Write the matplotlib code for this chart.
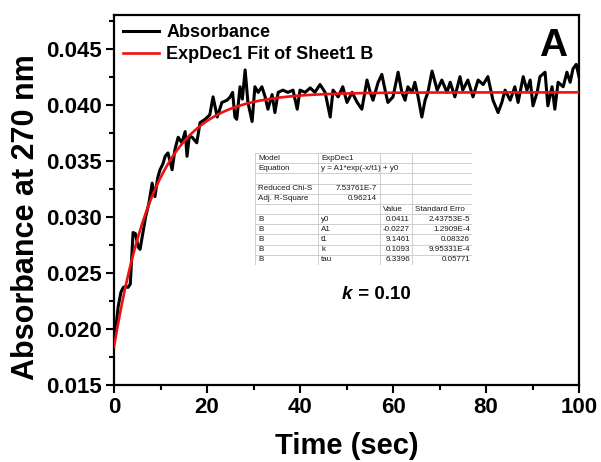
import numpy as np
import matplotlib
matplotlib.use('Agg')
import matplotlib.pyplot as plt
from matplotlib.ticker import MultipleLocator

plt.rcParams['font.family'] = ['Liberation Sans', 'DejaVu Sans']

# measured absorbance trace (time in sec)
time_s = [0, 0.5, 0.9, 1.5, 2.0, 2.5, 3.0, 3.5, 4.1, 4.6,
          5.2, 5.6, 6.3, 6.8, 7.5, 8.2, 8.8, 9.4, 9.9, 10.5,
          11.0, 11.6, 12.5, 13.1, 13.8, 14.6, 15.3, 15.7, 16.2, 16.8,
          17.8, 18.5, 19.6, 20.6, 21.3, 22.2, 23.2, 24.3, 25.0, 25.5,
          26.0, 26.4, 27.1, 27.6, 28.2, 28.8, 29.7, 30.3, 31.0, 31.8,
          32.5, 33.1, 34.0, 34.6, 35.3, 36.3, 37.4, 38.5, 39.4, 40.0,
          41.1, 42.2, 43.2, 44.3, 45.4, 46.5, 47.1, 48.2, 49.2, 50.1,
          51.2, 52.3, 53.3, 54.4, 55.1, 55.7, 56.8, 57.6, 58.3, 58.9,
          60.0, 61.1, 61.9, 62.6, 63.2, 64.1, 64.7, 65.4, 66.2, 66.9,
          67.5, 68.4, 69.5, 70.5, 71.6, 72.3, 73.3, 74.4, 75.0, 76.1,
          77.2, 78.3, 79.4, 80.4, 81.5, 82.6, 83.4, 84.1, 85.2, 86.2,
          86.9, 88.0, 88.8, 89.5, 90.1, 91.0, 91.6, 92.7, 93.3, 94.2,
          94.8, 95.5, 96.6, 97.4, 98.1, 98.7, 99.4, 100.0]
absorbance = [0.0188, 0.0205, 0.0220, 0.0233, 0.0237, 0.0238, 0.0237, 0.0240, 0.0286, 0.0285,
              0.0273, 0.0271, 0.0288, 0.0300, 0.0312, 0.0330, 0.0318, 0.0335, 0.0342, 0.0347,
              0.0354, 0.0357, 0.0342, 0.0360, 0.0371, 0.0366, 0.0376, 0.0354, 0.0372, 0.0371,
              0.0366, 0.0384, 0.0387, 0.0391, 0.0407, 0.0389, 0.0402, 0.0404, 0.0407, 0.0411,
              0.0389, 0.0387, 0.0416, 0.0405, 0.0431, 0.0402, 0.0385, 0.0416, 0.0411, 0.0416,
              0.0407, 0.0396, 0.0409, 0.0393, 0.0411, 0.0413, 0.0411, 0.0413, 0.0396, 0.0413,
              0.0411, 0.0415, 0.0411, 0.0418, 0.0411, 0.0389, 0.0413, 0.0407, 0.0416, 0.0402,
              0.0411, 0.0402, 0.0396, 0.0422, 0.0411, 0.0404, 0.0420, 0.0427, 0.0413, 0.0402,
              0.0407, 0.0429, 0.0411, 0.0404, 0.0416, 0.0411, 0.0420, 0.0407, 0.0389, 0.0404,
              0.0411, 0.0430, 0.0413, 0.0422, 0.0411, 0.0420, 0.0407, 0.0425, 0.0413, 0.0422,
              0.0407, 0.0422, 0.0418, 0.0425, 0.0404, 0.0393, 0.0402, 0.0413, 0.0404, 0.0416,
              0.0402, 0.0425, 0.0413, 0.0422, 0.0399, 0.0411, 0.0425, 0.0429, 0.0399, 0.0416,
              0.0396, 0.0420, 0.0416, 0.0429, 0.0420, 0.0432, 0.0436, 0.0425]

# ExpDec1 fit parameters
y0 = 0.0411
A1 = -0.0227
t1 = 9.1461

table_rows = [
    ['Model', 'ExpDec1', '', ''],
    ['Equation', 'y = A1*exp(-x/t1) + y0', '', ''],
    ['', '', '', ''],
    ['Reduced Chi-S', '7.53761E-7', '', ''],
    ['Adj. R-Square', '0.96214', '', ''],
    ['', '', 'Value', 'Standard Erro'],
    ['B', 'y0', '0.0411', '2.43753E-5'],
    ['B', 'A1', '-0.0227', '1.2909E-4'],
    ['B', 't1', '9.1461', '0.08326'],
    ['B', 'k', '0.1093', '9.95331E-4'],
    ['B', 'tau', '6.3396', '0.05771'],
]

fig = plt.figure(figsize=(6.01, 4.62), dpi=100)
ax = fig.add_axes([0.1897, 0.1667, 0.7737, 0.8008])

x_fit = np.linspace(0, 100, 400)
y_fit = y0 + A1 * np.exp(-x_fit / t1)

ax.plot(time_s, absorbance, color='black', lw=2.2, label='Absorbance', zorder=2)
ax.plot(x_fit, y_fit, color='#ee1111', lw=1.9, label='ExpDec1 Fit of Sheet1 B', zorder=3)

ax.set_xlim(0, 100)
ax.set_ylim(0.015, 0.048)
ax.xaxis.set_major_locator(MultipleLocator(20))
ax.xaxis.set_minor_locator(MultipleLocator(10))
ax.yaxis.set_major_locator(MultipleLocator(0.005))
ax.yaxis.set_minor_locator(MultipleLocator(0.0025))
ax.yaxis.set_major_formatter(plt.FormatStrFormatter('%.3f'))
ax.tick_params(which='major', length=6, width=1.5, labelsize=16, pad=3)
ax.tick_params(which='minor', length=3.5, width=1.5)
for lab in ax.get_xticklabels() + ax.get_yticklabels():
    lab.set_fontweight('bold')
for sp in ax.spines.values():
    sp.set_linewidth(1.6)

ax.set_xlabel('Time (sec)', fontsize=21, fontweight='bold', labelpad=10)
ax.set_ylabel('Absorbance at 270 nm', fontsize=22, fontweight='bold')
ax.yaxis.set_label_coords(-0.157, 0.455)

ax.legend(loc='upper left', frameon=False, prop={'size': 13, 'weight': 'bold'},
          handlelength=2.0, handletextpad=0.4, borderaxespad=0.1, labelspacing=0.3)

ax.text(0.975, 0.965, 'A', transform=ax.transAxes, ha='right', va='top',
        fontsize=28, fontweight='bold')
ax.text(0.512, 0.245, 'k', transform=ax.transAxes, ha='right', va='center',
        fontsize=13.5, fontweight='bold', style='italic')
ax.text(0.515, 0.245, ' = 0.10', transform=ax.transAxes, ha='left', va='center',
        fontsize=13.5, fontweight='bold')

# fit results table (inset in pixel-like coordinates)
tab = fig.add_axes([255 / 601, 1 - 265 / 462, 217 / 601, 112 / 462])
tab.set_xlim(255, 472)
tab.set_ylim(265, 153)
tab.axis('off')
col_edges = [255, 318, 380, 412, 472]
n = len(table_rows)
row_h = (265 - 153) / n
for i in range(n + 1):
    tab.plot([255, 472], [153 + i * row_h] * 2, color='#c8c8c8', lw=0.6)
for cx in col_edges:
    tab.plot([cx, cx], [153, 265], color='#c8c8c8', lw=0.6)
for i, row in enumerate(table_rows):
    yc = 153 + (i + 0.5) * row_h
    for j, cell in enumerate(row):
        if not cell:
            continue
        if i in (3, 4) and j == 1:
            tab.text(377, yc, cell, ha='right', va='center', fontsize=5.8, color='#1a1a1a')
        elif j >= 2 and i > 5:
            tab.text(col_edges[j + 1] - 2, yc, cell, ha='right', va='center',
                     fontsize=5.8, color='#1a1a1a')
        else:
            tab.text(col_edges[j] + 3, yc, cell, ha='left', va='center',
                     fontsize=5.8, color='#1a1a1a')

fig.savefig('out.png', dpi=100)
